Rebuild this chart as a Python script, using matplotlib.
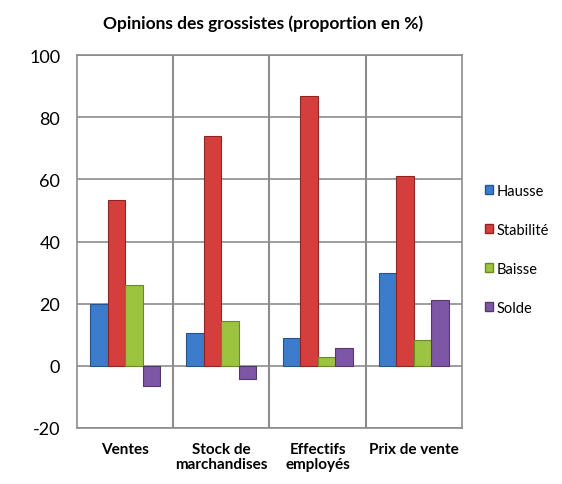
import matplotlib
matplotlib.use('Agg')
import matplotlib.pyplot as plt
from matplotlib.patches import Patch
import numpy as np

plt.rcParams['font.family'] = ['Lato', 'DejaVu Sans']

# Données
categories = ['Ventes', 'Stock de\nmarchandises', 'Effectifs\nemployés', 'Prix de vente']
series = ['Hausse', 'Stabilité', 'Baisse', 'Solde']
hausse = [20.0, 10.6, 9.0, 29.8]
stabilite = [53.2, 74.0, 86.8, 61.1]
baisse = [25.9, 14.3, 2.9, 8.3]
solde = [-6.4, -4.2, 5.8, 21.2]
yticks = [-20, 0, 20, 40, 60, 80, 100]

valeurs = [hausse, stabilite, baisse, solde]
couleurs = ['#3b7dcc', '#d43f3d', '#9cc43e', '#7d57a6']
bords = ['#25558f', '#8f2523', '#6a8a25', '#533970']

fig = plt.figure(figsize=(5.62, 4.85), dpi=100)
ax = fig.add_axes([0.137, 0.1155, 0.685, 0.769])

x = np.arange(len(categories)) + 0.5
largeur = 0.182
for i, (vals, c, b) in enumerate(zip(valeurs, couleurs, bords)):
    pos = x + (i - 1.5) * largeur
    ax.bar(pos, vals, width=largeur, color=c, edgecolor=b, linewidth=0.8, zorder=3)

ax.set_xlim(0, len(categories))
ax.set_ylim(-20, 100)
ax.set_yticks(yticks)
ax.set_yticklabels([str(t) for t in yticks], fontsize=13)
ax.tick_params(axis='y', length=0, pad=12)
ax.set_xticks(x)
ax.set_xticklabels(categories, fontsize=11, fontweight='bold', linespacing=1.1)
ax.tick_params(axis='x', length=0, pad=10)

ax.grid(axis='y', color='#8c8c8c', linewidth=1.2, zorder=0)
for v in range(1, len(categories)):
    ax.axvline(v, color='#8c8c8c', linewidth=1.5, zorder=0)
for s in ax.spines.values():
    s.set_color('#8c8c8c')
    s.set_linewidth(1.2)

fig.suptitle('Opinions des grossistes (proportion en %)', x=0.468, y=0.968,
             fontsize=12.5, fontweight='bold')

handles = [Patch(facecolor=c, edgecolor=b) for c, b in zip(couleurs, bords)]
fig.legend(handles, series, loc='center left', bbox_to_anchor=(0.84, 0.484),
           frameon=False, fontsize=10.5, handlelength=0.55, handleheight=0.55,
           handletextpad=0.25, labelspacing=1.72)

fig.savefig('out.png', dpi=100)
